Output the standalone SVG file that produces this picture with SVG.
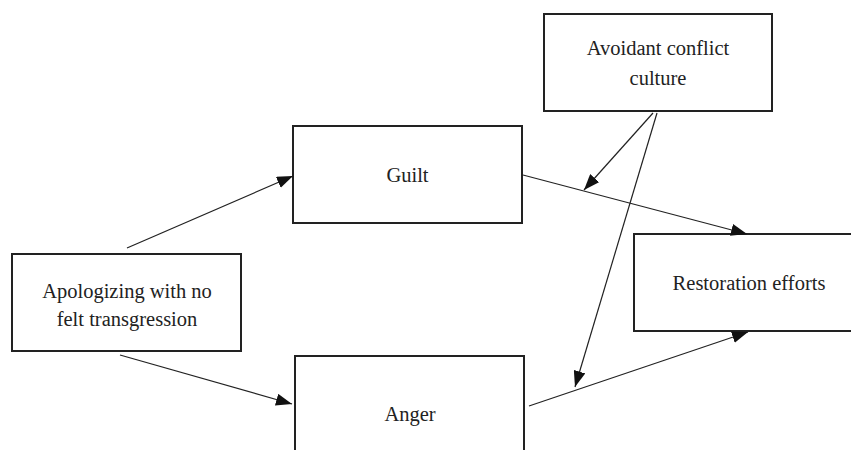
<svg xmlns="http://www.w3.org/2000/svg" width="851" height="450" viewBox="0 0 851 450">
<style>
.box{fill:#fff;stroke:#222;stroke-width:2}
.lbl{font-family:'Liberation Serif','Tinos','Times New Roman','Times','DejaVu Serif',serif;font-size:20.5px;fill:#222;text-anchor:middle}
.edge{stroke:#222;stroke-width:1.2;fill:none;marker-end:url(#ah)}
</style>
<defs>
<marker id="ah" markerUnits="userSpaceOnUse" markerWidth="16" markerHeight="12" viewBox="0 0 16 12" refX="16" refY="6" orient="auto">
<path d="M0,0 L16,6 L0,12 Z" fill="#111"/>
</marker>
</defs>
<rect width="851" height="450" fill="#fff"/>
<g id="node-apologizing">
<rect class="box" x="12" y="254" width="229" height="97"/>
<text class="lbl" x="127" y="298">Apologizing with no</text>
<text class="lbl" x="127" y="326">felt transgression</text>
</g>
<g id="node-guilt">
<rect class="box" x="293" y="126" width="229" height="97"/>
<text class="lbl" x="407.5" y="182">Guilt</text>
</g>
<g id="node-anger">
<rect class="box" x="295" y="356" width="229" height="110"/>
<text class="lbl" x="410" y="421">Anger</text>
</g>
<g id="node-avoidant">
<rect class="box" x="544" y="14" width="228" height="97"/>
<text class="lbl" x="658" y="55">Avoidant conflict</text>
<text class="lbl" x="658" y="85">culture</text>
</g>
<g id="node-restoration">
<rect class="box" x="634" y="234" width="240" height="97"/>
<text class="lbl" x="749" y="290">Restoration efforts</text>
</g>
<g id="connectors">
<line class="edge" x1="127" y1="248" x2="293" y2="176"/>
<line class="edge" x1="120" y1="355" x2="292" y2="404"/>
<line class="edge" x1="523" y1="175" x2="747" y2="234"/>
<line class="edge" x1="653" y1="113" x2="584" y2="190"/>
<line class="edge" x1="657" y1="113" x2="575" y2="387"/>
<line class="edge" x1="529" y1="406" x2="748" y2="332"/>
</g>
</svg>
